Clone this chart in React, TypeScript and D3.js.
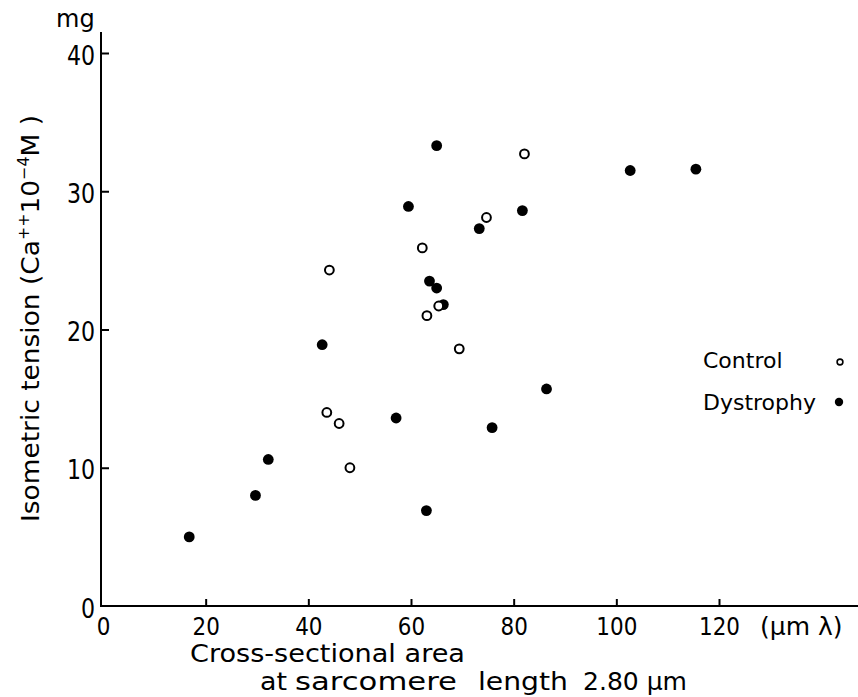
import React, { useEffect, useRef } from 'react'
import * as d3 from 'd3'

// values
const controlX = [82.1, 74.7, 62.2, 44.1, 65.4, 63.1, 69.4, 43.6, 46.0, 48.1]
const controlY = [32.7, 28.1, 25.9, 24.3, 21.7, 21.0, 18.6, 14.0, 13.2, 10.0]

const dystrophyX = [65.0, 59.5, 81.7, 73.3, 102.7, 115.5, 63.6, 65.0, 66.3, 42.7, 86.4, 57.1, 75.8, 32.2, 29.7, 63.0, 16.8]
const dystrophyY = [33.3, 28.9, 28.6, 27.3, 31.5, 31.6, 23.5, 23.0, 21.8, 18.9, 15.7, 13.6, 12.9, 10.6, 8.0, 6.9, 5.0]

const xTicks = [0, 20, 40, 60, 80, 100, 120]
const yTicks = [0, 10, 20, 30, 40]

const legendLabels = ['Control', 'Dystrophy']

export default function App() {
    const ref = useRef<SVGSVGElement>(null)

    useEffect(() => {
        const svg = d3.select(ref.current)
        svg.selectAll('*').remove()

        const font = '"DejaVu Sans", sans-serif'

        // scales
        const x = d3.scaleLinear().domain([0, 120]).range([103, 719])
        const y = d3.scaleLinear().domain([0, 40]).range([606, 53])

        // axis lines
        svg.append('line')
            .attr('x1', x(0) - 2).attr('x2', x(0) - 2)
            .attr('y1', 32).attr('y2', y(0) + 1)
            .attr('stroke', '#000').attr('stroke-width', 2)

        svg.append('line')
            .attr('x1', x(0) - 3).attr('x2', 858)
            .attr('y1', y(0)).attr('y2', y(0))
            .attr('stroke', '#000').attr('stroke-width', 2)

        // x axis ticks + labels
        const xAxisGroup = svg.append('g')
            .attr('transform', `translate(0, ${y(0)})`)
            .call(d3.axisBottom(x).tickValues(xTicks).tickSize(-7).tickSizeOuter(0))
        xAxisGroup.select('.domain').remove()
        xAxisGroup.selectAll('line').attr('stroke-width', 2)
            .filter((d: any) => d === 0).remove()
        xAxisGroup.selectAll('text')
            .attr('font-family', font).attr('font-size', 25).attr('fill', '#000')
            .attr('y', 0).attr('dy', 0)
            .attr('transform', 'translate(0, 29) scale(0.86, 1)')

        // y axis ticks + labels
        const yAxisGroup = svg.append('g')
            .attr('transform', `translate(${x(0) - 2}, 0)`)
            .call(d3.axisLeft(y).tickValues(yTicks).tickSize(-8).tickSizeOuter(0))
        yAxisGroup.select('.domain').remove()
        yAxisGroup.selectAll('line').attr('stroke-width', 2)
            .filter((d: any) => d === 0).remove()
        yAxisGroup.selectAll('text')
            .attr('font-family', font).attr('font-size', 26).attr('fill', '#000')
            .attr('x', 0).attr('dy', 0)
            .attr('transform', 'translate(-6, 11) scale(0.85, 1)')

        // unit labels
        svg.append('text')
            .attr('x', 56).attr('y', 27)
            .attr('font-family', font).attr('font-size', 24)
            .text('mg')

        svg.append('text')
            .attr('x', 760).attr('y', 635)
            .attr('font-family', font).attr('font-size', 25)
            .text('(µm λ)')

        // y title
        const yTitle = svg.append('text')
            .attr('transform', 'translate(39, 522) rotate(-90)')
            .attr('font-family', font).attr('font-size', 25)
            .attr('textLength', 407).attr('lengthAdjust', 'spacingAndGlyphs')
        yTitle.append('tspan').text('Isometric tension (Ca')
        yTitle.append('tspan').attr('dy', -10).attr('font-size', 15).text('++')
        yTitle.append('tspan').attr('dy', 10).text('10')
        yTitle.append('tspan').attr('dy', -10).attr('font-size', 15).text('−4')
        yTitle.append('tspan').attr('dy', 10).text('M )')

        // x title, two lines
        svg.append('text')
            .attr('x', 190).attr('y', 662)
            .attr('font-family', font).attr('font-size', 24)
            .attr('textLength', 275).attr('lengthAdjust', 'spacingAndGlyphs')
            .text('Cross-sectional area')

        const xTitle2 = svg.append('text')
            .attr('y', 690)
            .attr('font-family', font).attr('font-size', 24)
        xTitle2.append('tspan').attr('x', 260).attr('textLength', 27).attr('lengthAdjust', 'spacingAndGlyphs').text('at')
        xTitle2.append('tspan').attr('x', 295).attr('textLength', 162).attr('lengthAdjust', 'spacingAndGlyphs').text('sarcomere')
        xTitle2.append('tspan').attr('x', 478).attr('textLength', 90).attr('lengthAdjust', 'spacingAndGlyphs').text('length')
        xTitle2.append('tspan').attr('x', 583).attr('textLength', 104).attr('lengthAdjust', 'spacingAndGlyphs').text('2.80 µm')

        // points: dystrophy first so open circles sit on top
        const dys = d3.zip(dystrophyX, dystrophyY)
        svg.append('g').selectAll('circle')
            .data(dys)
            .enter()
            .append('circle')
            .attr('cx', d => x(d[0]))
            .attr('cy', d => y(d[1]))
            .attr('r', 5.4)
            .attr('fill', '#000')

        const ctl = d3.zip(controlX, controlY)
        svg.append('g').selectAll('circle')
            .data(ctl)
            .enter()
            .append('circle')
            .attr('cx', d => x(d[0]))
            .attr('cy', d => y(d[1]))
            .attr('r', 4.4)
            .attr('fill', '#fff')
            .attr('stroke', '#000')
            .attr('stroke-width', 2)

        // legend
        const legend = svg.append('g')
        legend.selectAll('text')
            .data(legendLabels)
            .enter()
            .append('text')
            .attr('x', 703)
            .attr('y', (d, i) => 368 + i * 42)
            .attr('font-family', font).attr('font-size', 22)
            .text(d => d)

        legend.append('circle')
            .attr('cx', 840).attr('cy', 362).attr('r', 2.9)
            .attr('fill', '#fff').attr('stroke', '#000').attr('stroke-width', 1.6)
        legend.append('circle')
            .attr('cx', 839).attr('cy', 402).attr('r', 4.2)
            .attr('fill', '#000')
    }, [])

    return (
        <svg ref={ref} width={858} height={697}
            style={{ position: 'absolute', left: 0, top: 0, background: '#fff' }} />
    )
}
